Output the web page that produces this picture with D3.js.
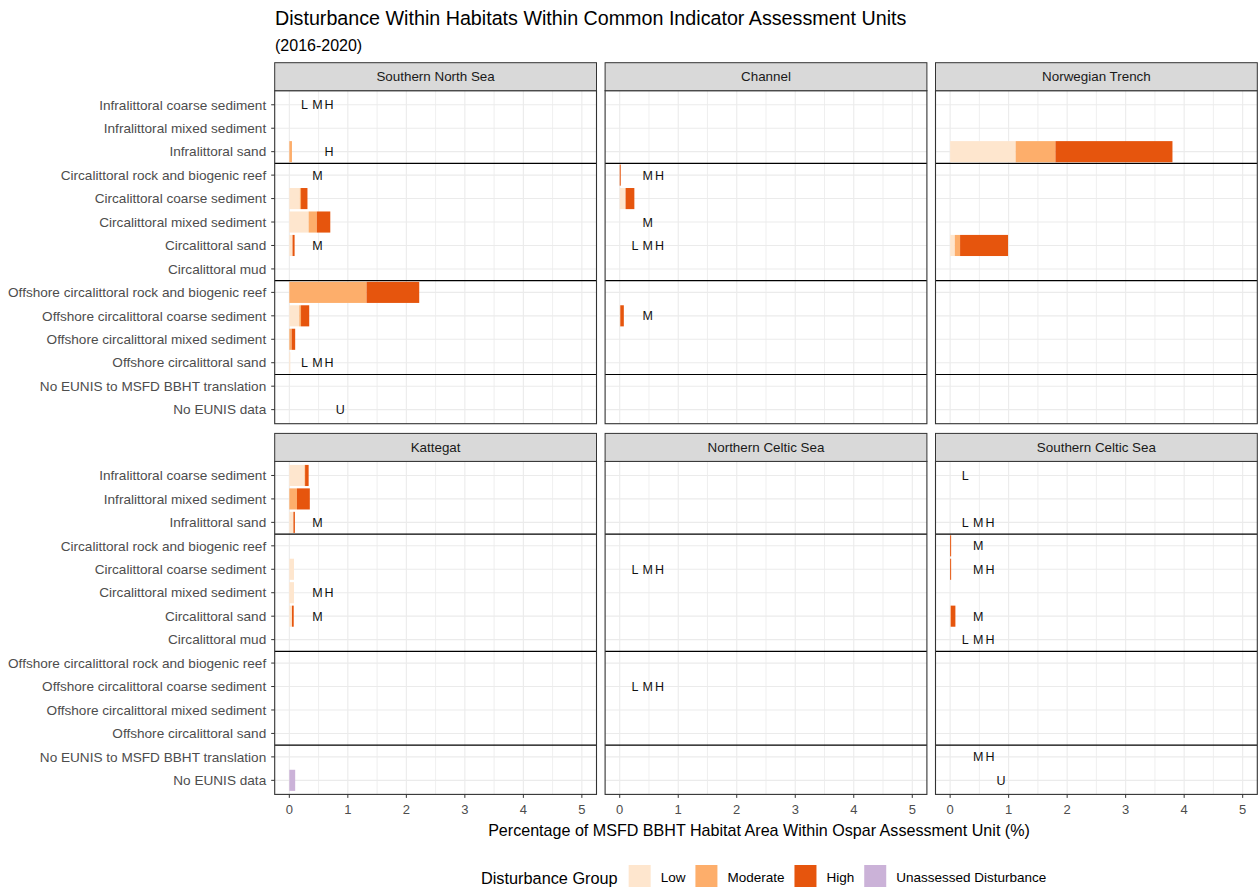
<!DOCTYPE html>
<html lang="en">
  <head>
    <meta charset="UTF-8" />
    <title>Disturbance Within Habitats Within Common Indicator Assessment Units</title>
    <script src="https://cdn.jsdelivr.net/npm/d3@7"></script>
    <style>
      body {
        margin: 0;
        background: #fff;
      }
      svg {
        display: block;
        font-family: "Liberation Sans", Arial, sans-serif;
      }
    </style>
  </head>
  <body>
    <svg width="1258" height="890"></svg>
    <script>
      var habitats = [
        "Infralittoral coarse sediment",
        "Infralittoral mixed sediment",
        "Infralittoral sand",
        "Circalittoral rock and biogenic reef",
        "Circalittoral coarse sediment",
        "Circalittoral mixed sediment",
        "Circalittoral sand",
        "Circalittoral mud",
        "Offshore circalittoral rock and biogenic reef",
        "Offshore circalittoral coarse sediment",
        "Offshore circalittoral mixed sediment",
        "Offshore circalittoral sand",
        "No EUNIS to MSFD BBHT translation",
        "No EUNIS data"
      ];
      // last habitat of each group gets a black line under it
      var groupEnds = ["Infralittoral sand", "Circalittoral mud", "Offshore circalittoral sand"];

      var units = [
        "Southern North Sea",
        "Channel",
        "Norwegian Trench",
        "Kattegat",
        "Northern Celtic Sea",
        "Southern Celtic Sea"
      ];

      var groups = ["Low", "Moderate", "High", "Unassessed Disturbance"];
      var groupColors = ["#FEE6CE", "#FDAE6B", "#E6550D", "#CBB2D8"];
      var xTicks = [0, 1, 2, 3, 4, 5];

      // [habitat, low, moderate, high, unassessed] in %
      var southernNorthSea = [
        ["Infralittoral sand", 0, 0.045, 0, 0],
        ["Circalittoral coarse sediment", 0.18, 0.02, 0.11, 0],
        ["Circalittoral mixed sediment", 0.33, 0.14, 0.23, 0],
        ["Circalittoral sand", 0.055, 0, 0.035, 0],
        ["Offshore circalittoral rock and biogenic reef", 0, 1.32, 0.9, 0],
        ["Offshore circalittoral coarse sediment", 0.17, 0.03, 0.14, 0],
        ["Offshore circalittoral mixed sediment", 0, 0.04, 0.06, 0],
        ["Offshore circalittoral sand", 0.01, 0, 0, 0]
      ];
      var channel = [
        ["Circalittoral rock and biogenic reef", 0, 0, 0.015, 0],
        ["Circalittoral coarse sediment", 0.1, 0, 0.15, 0],
        ["Offshore circalittoral coarse sediment", 0.01, 0, 0.06, 0]
      ];
      var norwegianTrench = [
        ["Infralittoral sand", 1.12, 0.68, 2.0, 0],
        ["Circalittoral sand", 0.08, 0.09, 0.82, 0]
      ];
      var kattegat = [
        ["Infralittoral coarse sediment", 0.26, 0.01, 0.06, 0],
        ["Infralittoral mixed sediment", 0, 0.13, 0.22, 0],
        ["Infralittoral sand", 0.07, 0, 0.025, 0],
        ["Circalittoral coarse sediment", 0.08, 0, 0, 0],
        ["Circalittoral mixed sediment", 0.08, 0, 0, 0],
        ["Circalittoral sand", 0.045, 0, 0.03, 0],
        ["No EUNIS data", 0, 0, 0, 0.1]
      ];
      var northernCelticSea = [];
      var southernCelticSea = [
        ["Circalittoral rock and biogenic reef", 0, 0, 0.015, 0],
        ["Circalittoral coarse sediment", 0, 0, 0.01, 0],
        ["Circalittoral sand", 0.01, 0, 0.08, 0]
      ];

      // letters marking groups with no data
      var letterRows = [
        ["Southern North Sea", "Infralittoral coarse sediment", "LMH"],
        ["Southern North Sea", "Infralittoral sand", "H"],
        ["Southern North Sea", "Circalittoral rock and biogenic reef", "M"],
        ["Southern North Sea", "Circalittoral sand", "M"],
        ["Southern North Sea", "Offshore circalittoral sand", "LMH"],
        ["Southern North Sea", "No EUNIS data", "U"],
        ["Channel", "Circalittoral rock and biogenic reef", "MH"],
        ["Channel", "Circalittoral mixed sediment", "M"],
        ["Channel", "Circalittoral sand", "LMH"],
        ["Channel", "Offshore circalittoral coarse sediment", "M"],
        ["Kattegat", "Infralittoral sand", "M"],
        ["Kattegat", "Circalittoral mixed sediment", "MH"],
        ["Kattegat", "Circalittoral sand", "M"],
        ["Northern Celtic Sea", "Circalittoral coarse sediment", "LMH"],
        ["Northern Celtic Sea", "Offshore circalittoral coarse sediment", "LMH"],
        ["Southern Celtic Sea", "Infralittoral coarse sediment", "L"],
        ["Southern Celtic Sea", "Infralittoral sand", "LMH"],
        ["Southern Celtic Sea", "Circalittoral rock and biogenic reef", "M"],
        ["Southern Celtic Sea", "Circalittoral coarse sediment", "MH"],
        ["Southern Celtic Sea", "Circalittoral sand", "M"],
        ["Southern Celtic Sea", "Circalittoral mud", "LMH"],
        ["Southern Celtic Sea", "No EUNIS to MSFD BBHT translation", "MH"],
        ["Southern Celtic Sea", "No EUNIS data", "U"]
      ];
      var letterX = { L: 0.26, M: 0.48, H: 0.68, U: 0.87 };

      var unitData = [
        southernNorthSea,
        channel,
        norwegianTrench,
        kattegat,
        northernCelticSea,
        southernCelticSea
      ];

      // layout
      var plotLeft = 274.7,
        plotRight = 1257.3,
        gapX = 8.6,
        panelW = (plotRight - plotLeft - 2 * gapX) / 3,
        stripH = 28,
        panelH = 333,
        rowTops = [62.7, 433.4];

      var svg = d3.select("svg");

      var x = d3.scaleLinear().domain([-0.25, 5.25]).range([0, panelW]);
      var y = d3.scalePoint().domain(habitats).range([0, panelH]).padding(0.6);
      var barH = y.step() * 0.9;

      svg
        .append("text")
        .attr("x", 275)
        .attr("y", 25)
        .style("font-size", "19.7px")
        .attr("fill", "#000")
        .text("Disturbance Within Habitats Within Common Indicator Assessment Units");
      svg
        .append("text")
        .attr("x", 275)
        .attr("y", 51)
        .style("font-size", "16px")
        .attr("fill", "#000")
        .text("(2016-2020)");

      units.forEach(function (unit, i) {
        var col = i % 3,
          row = Math.floor(i / 3);
        var px = plotLeft + col * (panelW + gapX);
        var top = rowTops[row];
        var g = svg.append("g").attr("transform", "translate(" + px + "," + (top + stripH) + ")");

        // strip
        svg
          .append("rect")
          .attr("x", px)
          .attr("y", top)
          .attr("width", panelW)
          .attr("height", stripH)
          .attr("fill", "#D9D9D9")
          .attr("stroke", "#333")
          .attr("stroke-width", 1);
        svg
          .append("text")
          .attr("x", px + panelW / 2)
          .attr("y", top + stripH / 2)
          .attr("dy", "0.35em")
          .attr("text-anchor", "middle")
          .style("font-size", "13.4px")
          .attr("fill", "#1A1A1A")
          .text(unit);

        // grid
        var minor = d3.range(0.5, 5.5, 1);
        g.selectAll("line.minor")
          .data(minor)
          .enter()
          .append("line")
          .attr("x1", function (d) { return x(d); })
          .attr("x2", function (d) { return x(d); })
          .attr("y1", 0)
          .attr("y2", panelH)
          .attr("stroke", "#EBEBEB")
          .attr("stroke-width", 0.8);
        g.selectAll("line.vmajor")
          .data(xTicks)
          .enter()
          .append("line")
          .attr("x1", function (d) { return x(d); })
          .attr("x2", function (d) { return x(d); })
          .attr("y1", 0)
          .attr("y2", panelH)
          .attr("stroke", "#EBEBEB")
          .attr("stroke-width", 1.1);
        g.selectAll("line.hmajor")
          .data(habitats)
          .enter()
          .append("line")
          .attr("x1", 0)
          .attr("x2", panelW)
          .attr("y1", function (d) { return y(d); })
          .attr("y2", function (d) { return y(d); })
          .attr("stroke", "#EBEBEB")
          .attr("stroke-width", 1.1);

        // group separators
        g.selectAll("line.sep")
          .data(groupEnds)
          .enter()
          .append("line")
          .attr("x1", 0)
          .attr("x2", panelW)
          .attr("y1", function (d) { return y(d) + y.step() / 2; })
          .attr("y2", function (d) { return y(d) + y.step() / 2; })
          .attr("stroke", "#000")
          .attr("stroke-width", 1.1);

        // stacked bars
        var segs = [];
        unitData[i].forEach(function (r) {
          var start = 0;
          for (var k = 0; k < 4; k++) {
            var v = r[k + 1];
            if (v > 0) segs.push({ habitat: r[0], group: k, x0: start, x1: start + v });
            start += v;
          }
        });
        g.selectAll("rect.bar")
          .data(segs)
          .enter()
          .append("rect")
          .attr("x", function (d) { return x(d.x0); })
          .attr("width", function (d) { return Math.max(x(d.x1) - x(d.x0), 1); })
          .attr("y", function (d) { return y(d.habitat) - barH / 2; })
          .attr("height", barH)
          .attr("fill", function (d) { return groupColors[d.group]; });

        // letters
        var letters = [];
        letterRows
          .filter(function (r) { return r[0] === unit; })
          .forEach(function (r) {
            r[2].split("").forEach(function (c) {
              letters.push({ habitat: r[1], letter: c });
            });
          });
        g.selectAll("text.letter")
          .data(letters)
          .enter()
          .append("text")
          .attr("x", function (d) { return x(letterX[d.letter]); })
          .attr("y", function (d) { return y(d.habitat); })
          .attr("dy", "0.36em")
          .attr("text-anchor", "middle")
          .style("font-size", "12.5px")
          .attr("fill", "#111")
          .text(function (d) { return d.letter; });

        // border
        g.append("rect")
          .attr("width", panelW)
          .attr("height", panelH)
          .attr("fill", "none")
          .attr("stroke", "#333")
          .attr("stroke-width", 1.1);

        // y axis on first column
        if (col === 0) {
          var ya = g.append("g");
          ya.selectAll("line")
            .data(habitats)
            .enter()
            .append("line")
            .attr("x1", -3.5)
            .attr("x2", 0)
            .attr("y1", function (d) { return y(d); })
            .attr("y2", function (d) { return y(d); })
            .attr("stroke", "#333");
          ya.selectAll("text")
            .data(habitats)
            .enter()
            .append("text")
            .attr("x", -8.5)
            .attr("y", function (d) { return y(d); })
            .attr("dy", "0.35em")
            .attr("text-anchor", "end")
            .style("font-size", "13.6px")
            .attr("fill", "#4D4D4D")
            .text(function (d) { return d; });
        }

        // x axis on bottom row
        if (row === 1) {
          var xa = g.append("g").attr("transform", "translate(0," + panelH + ")");
          xa.selectAll("line")
            .data(xTicks)
            .enter()
            .append("line")
            .attr("x1", function (d) { return x(d); })
            .attr("x2", function (d) { return x(d); })
            .attr("y1", 0)
            .attr("y2", 3.5)
            .attr("stroke", "#333");
          xa.selectAll("text")
            .data(xTicks)
            .enter()
            .append("text")
            .attr("x", function (d) { return x(d); })
            .attr("y", 19.5)
            .attr("text-anchor", "middle")
            .style("font-size", "13px")
            .attr("fill", "#4D4D4D")
            .text(function (d) { return d; });
        }
      });

      svg
        .append("text")
        .attr("x", 759)
        .attr("y", 836)
        .attr("text-anchor", "middle")
        .style("font-size", "16.1px")
        .attr("fill", "#000")
        .text("Percentage of MSFD BBHT Habitat Area Within Ospar Assessment Unit (%)");

      // legend
      var legend = svg.append("g");
      var legTitle = legend
        .append("text")
        .attr("x", 0)
        .attr("y", 884)
        .style("font-size", "16.3px")
        .attr("fill", "#000")
        .text("Disturbance Group");
      var cursor = legTitle.node().getComputedTextLength() + 11;
      groups.forEach(function (grp, k) {
        legend
          .append("rect")
          .attr("x", cursor)
          .attr("y", 865)
          .attr("width", 22)
          .attr("height", 22)
          .attr("fill", groupColors[k]);
        var t = legend
          .append("text")
          .attr("x", cursor + 22 + 10)
          .attr("y", 877)
          .attr("dy", "0.35em")
          .style("font-size", "13.5px")
          .attr("fill", "#000")
          .text(grp);
        cursor += 22 + 10 + t.node().getComputedTextLength() + 10;
      });
      legend.attr("transform", "translate(481,0)");
    </script>
  </body>
</html>
